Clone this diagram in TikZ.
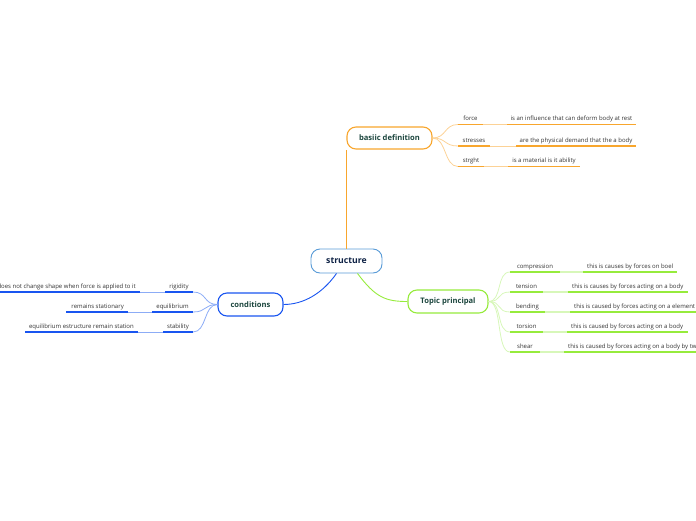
\documentclass[tikz,border=0pt]{standalone}
\usepackage{fontspec}
\setmainfont{Open Sans}
\usetikzlibrary{calc}
\definecolor{orng}{RGB}{248,166,45}
\definecolor{orngl}{RGB}{252,210,150}
\definecolor{grn}{RGB}{150,235,60}
\definecolor{grnl}{RGB}{215,247,185}
\definecolor{blu}{RGB}{25,85,240}
\definecolor{blul}{RGB}{140,172,246}
\definecolor{sblu}{RGB}{88,155,215}
\definecolor{maintxt}{RGB}{28,70,62}
\definecolor{navy}{RGB}{15,35,70}
\definecolor{labtxt}{RGB}{50,50,50}
\begin{document}
\begin{tikzpicture}[x=1pt,y=-1pt,
  mainbox/.style={draw, fill=white, rounded corners=9pt, line width=1.1pt, inner sep=0pt,
    font=\fontsize{7.6}{9}\selectfont\bfseries, text=maintxt},
  lab/.style={font=\fontsize{6}{7}\selectfont, text=labtxt, inner sep=0pt, anchor=base},
  ul/.style={line width=1.6pt},
  conn/.style={line width=0.9pt},
  thin/.style={line width=0.8pt}]
\useasboundingbox (0,0) rectangle (696,520);

% central and main topics
\node[mainbox, draw=sblu, line width=0.9pt, minimum width=71pt, minimum height=24pt,
  font=\fontsize{8.7}{10}\selectfont\bfseries, text=navy] (s) at (346.5,261) {structure};
\node[mainbox, draw=orng, minimum width=85pt, minimum height=22pt] (b) at (389.5,138) {basiic definition};
\node[mainbox, draw=grn, minimum width=80pt, minimum height=23pt] (t) at (448,301.5) {Topic principal};
\node[mainbox, draw=blu, minimum width=65pt, minimum height=23pt] (c) at (250.5,304.5) {conditions};

% main connectors
\draw[orng, conn] (s.north) -- (s.north |- b.south);
\coordinate (sg) at ($(s.south)+(11,0)$);
\draw[grn, conn] (sg) .. controls ($(sg)+(18,24)$) and ($(t.west)+(-22,0)$) .. (t.west);
\coordinate (sb) at ($(s.south)+(-10,0)$);
\draw[blu, conn] (sb) .. controls ($(sb)+(-14,20)$) and ($(c.east)+(20,0)$) .. (c.east);

% basic definition children
\foreach \n/\y/\a/\bb/\cc/\d/\tx/\g in {
  f/124.5/458/483/507/636/force/is an influence that can deform body at rest,
  r/146/458/490/516/636/stresses/are the physical demand that the a body,
  g/166.5/458/484/508/580/strght/is a material is it ability}{
  \coordinate (\n1) at (\a,\y); \coordinate (\n2) at (\bb,\y);
  \coordinate (\n3) at (\cc,\y); \coordinate (\n4) at (\d,\y);
  \draw[orngl, thin] (b.east) .. controls ($(b.east)+(14,0)$) and ($(\n1)+(-14,0)$) .. (\n1);
  \draw[orngl, thin] (\n2) -- (\n3);
  \draw[orng, ul] (\n1) -- (\n2);
  \draw[orng, ul] (\n3) -- (\n4);
  \node[lab] (\n a) at ($(\n1)!0.5!(\n2)+(0,-3.8)$) {\tx};
  \node[lab] (\n b) at ($(\n3)!0.5!(\n4)+(0,-3.8)$) {\g};
}

% topic principal children
\foreach \n/\y/\a/\bb/\cc/\d/\tx/\g in {
  cp/272/510/560/583/677/compression/this is causes by forces on boel,
  te/292/510/543/568/688/tension/this is causes by forces acting on a body,
  be/312/510/545/570/699/bending/this is caused by forces acting on a element,
  to/332/510/543/567/688/torsion/this is caused by forces acting on a body,
  sh/352/510/540/564/760/shear/this is caused by forces acting on a body by two}{
  \coordinate (\n1) at (\a,\y); \coordinate (\n2) at (\bb,\y);
  \coordinate (\n3) at (\cc,\y); \coordinate (\n4) at (\d,\y);
  \draw[grnl, thin] (t.east) .. controls ($(t.east)+(14,0)$) and ($(\n1)+(-14,0)$) .. (\n1);
  \draw[grnl, ul] (\n2) -- (\n3);
  \draw[grn, ul] (\n1) -- (\n2);
  \draw[grn, ul] (\n3) -- (\n4);
  \node[lab] (\n a) at ($(\n1)!0.5!(\n2)+(0,-3.8)$) {\tx};
  \node[lab, anchor=base west] (\n b) at ($(\n3)+(4,-3.8)$) {\g};
}

% conditions children
\foreach \n/\y/\a/\bb/\cc/\d/\tx/\g in {
  ri/292/193/165/140/-10/rigidity/does not change shape when force is applied to it,
  eq/312/193/152/128/66/equilibrium/remains stationary,
  st/332/193/163/138/25/stability/equilibrium estructure remain station}{
  \coordinate (\n1) at (\a,\y); \coordinate (\n2) at (\bb,\y);
  \coordinate (\n3) at (\cc,\y); \coordinate (\n4) at (\d,\y);
  \draw[blul, thin] (c.west) .. controls ($(c.west)+(-14,0)$) and ($(\n1)+(14,0)$) .. (\n1);
  \draw[blul, thin] (\n2) -- (\n3);
  \draw[blu, ul] (\n1) -- (\n2);
  \draw[blu, ul] (\n3) -- (\n4);
  \node[lab] (\n a) at ($(\n1)!0.5!(\n2)+(0,-3.8)$) {\tx};
  \node[lab, anchor=base east] (\n b) at ($(\n3)+(-4,-3.8)$) {\g};
}
\end{tikzpicture}
\end{document}
